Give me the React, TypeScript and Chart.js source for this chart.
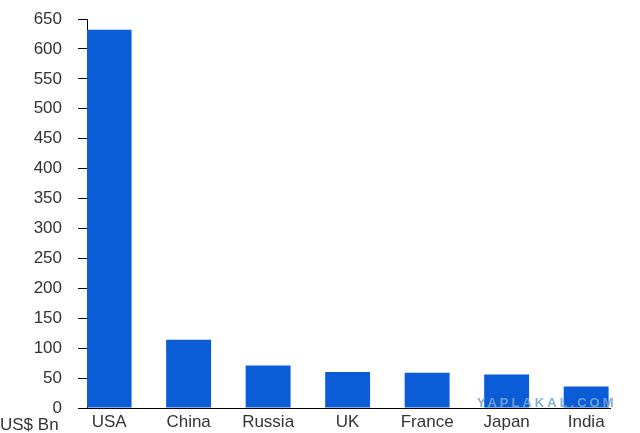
import React, { useEffect, useRef } from "react";
import { Chart, registerables } from "chart.js";

Chart.register(...registerables);

const categories = ["USA", "China", "Russia", "UK", "France", "Japan", "India"];
const values = [632, 114, 71, 60, 59, 56, 36];
const yTicksMax = 650;
const yStep = 50;
const unitLabel = "US$ Bn";
const watermark = "YAPLAKAL.COM";

const FONT = "'Liberation Sans', Arial, Helvetica, sans-serif";

const extrasPlugin = {
  id: "extras",
  afterDraw(chart: any) {
    const ctx = chart.ctx;
    const area = chart.chartArea;
    ctx.save();
    ctx.fillStyle = "#333";
    ctx.font = `17px ${FONT}`;
    ctx.textAlign = "left";
    ctx.textBaseline = "alphabetic";
    ctx.fillText(unitLabel, 0, area.bottom + 22);
    ctx.font = `bold 13px ${FONT}`;
    (ctx as any).letterSpacing = "3px";
    ctx.fillStyle = "rgba(120,165,210,0.9)";
    ctx.textAlign = "left";
    ctx.fillText(watermark, 477, area.bottom - 1);
    ctx.restore();
  },
};

export default function App() {
  const ref = useRef<HTMLCanvasElement | null>(null);

  useEffect(() => {
    document.body.style.margin = "0";
    const canvas = ref.current;
    if (!canvas) return;
    const chart = new Chart(canvas, {
      type: "bar",
      data: {
        datasets: [
          {
            data: values.map((v, i) => ({ x: i, y: v })),
            backgroundColor: "#0a5dd6",
            borderWidth: 0,
            categoryPercentage: 1,
            barPercentage: 0.565,
          },
        ],
      },
      plugins: [extrasPlugin],
      options: {
        animation: false,
        responsive: false,
        maintainAspectRatio: false,
        layout: { padding: { top: 19, right: 30, left: 0, bottom: 0 } },
        plugins: { legend: { display: false }, tooltip: { enabled: false } },
        scales: {
          x: {
            type: "linear",
            offset: false,
            bounds: "data",
            min: -0.278,
            max: 6.3,
            afterFit: (s: any) => {
              s.height = 25;
              s.paddingLeft = 0;
              s.paddingRight = 0;
            },
            afterBuildTicks: (s: any) => {
              s.ticks = categories.map((_, i) => ({ value: i }));
            },
            grid: { display: false, drawTicks: false },
            border: { display: true, color: "#000", width: 1 },
            ticks: {
              autoSkip: false,
              maxRotation: 0,
              padding: 4,
              color: "#333",
              font: { family: FONT, size: 17 },
              callback: (v: any) => categories[Math.round(Number(v))] ?? "",
            },
          },
          y: {
            min: 0,
            max: yTicksMax,
            afterFit: (s: any) => {
              s.width = 87;
              s.paddingTop = 0;
              s.paddingBottom = 0;
            },
            grid: {
              drawOnChartArea: false,
              drawTicks: true,
              tickLength: 9,
              color: "#000",
            },
            border: { display: true, color: "#000", width: 1 },
            ticks: {
              stepSize: yStep,
              padding: 16,
              color: "#333",
              font: { family: FONT, size: 17 },
            },
          },
        },
      },
    } as any);
    return () => chart.destroy();
  }, []);

  return (
    <div style={{ width: 640, height: 433, background: "#fff" }}>
      <canvas ref={ref} width={640} height={433} style={{ display: "block" }} />
    </div>
  );
}
